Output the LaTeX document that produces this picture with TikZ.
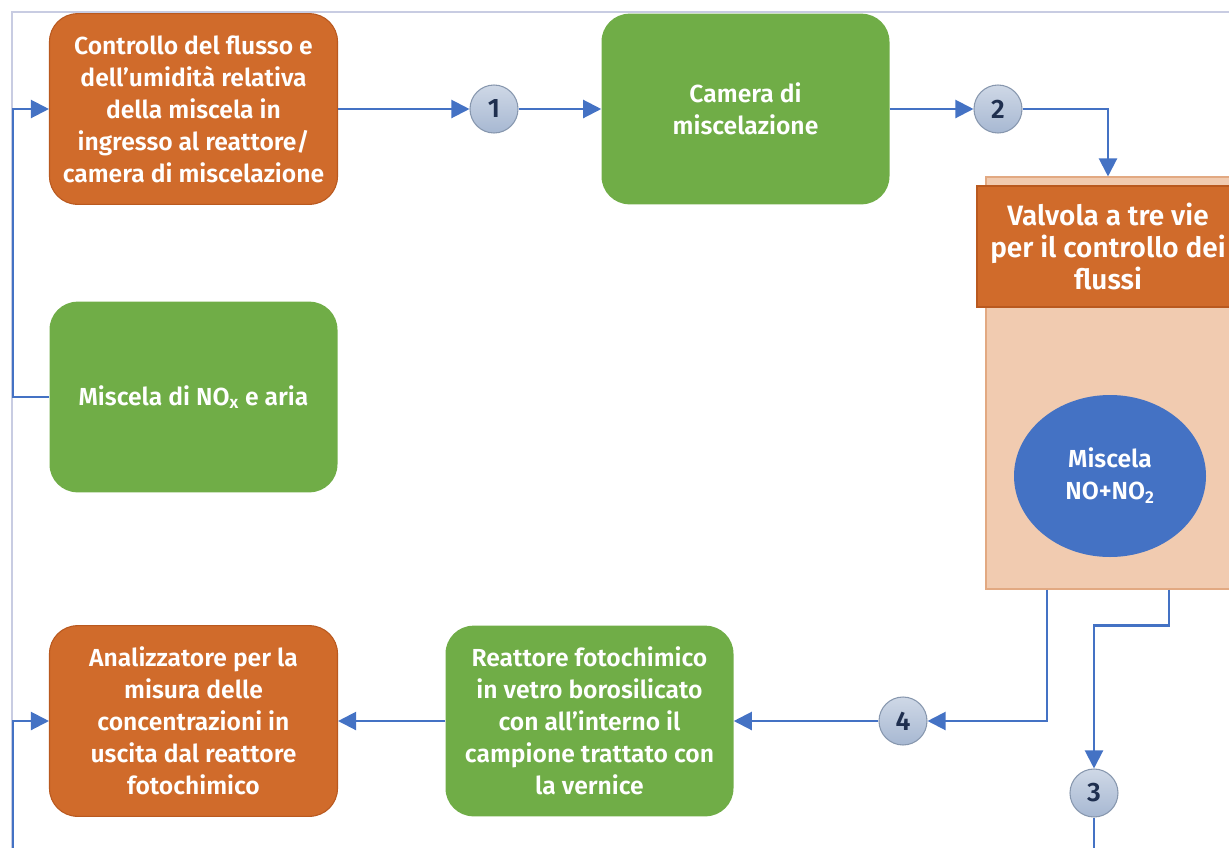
\documentclass[tikz,border=0pt]{standalone}
\usepackage{fontspec}
\setmainfont{Fira Sans}[BoldFont={Fira Sans SemiBold}]
\usetikzlibrary{arrows.meta,shapes.geometric}
\definecolor{arancio}{HTML}{D06B2B}
\definecolor{arancioscuro}{HTML}{B9591F}
\definecolor{verde}{HTML}{70AD47}
\definecolor{pesca}{HTML}{F1CBB0}
\definecolor{pescabordo}{HTML}{E2A982}
\definecolor{blu}{HTML}{4472C4}
\definecolor{cornice}{HTML}{C8CCE2}
\definecolor{tondo}{HTML}{A7B8D2}
\definecolor{tondobordo}{HTML}{8797AE}
\definecolor{cifra}{HTML}{1F2F4F}
\begin{document}
\begin{tikzpicture}[x=0.75pt,y=-0.75pt,
  box/.style={rounded corners=21pt,minimum width=216pt,minimum height=143pt,
    align=center,inner sep=0pt,text=white,font=\bfseries\fontsize{18.5}{24}\selectfont},
  arancione/.style={box,fill=arancio,draw=arancioscuro,line width=0.8pt},
  verdone/.style={box,fill=verde},
  num/.style={circle,minimum size=36pt,inner sep=0pt,top color=tondo!55!white,
    bottom color=tondo,draw=tondobordo,line width=0.8pt,text=cifra,
    font=\bfseries\fontsize{20}{22}\selectfont},
  flow/.style={draw=blu,line width=1.6pt,-{Triangle[length=13.5pt,width=13.5pt]}}]
  \useasboundingbox (0,0) rectangle (1229,847);
  % cornice
  \draw[cornice,line width=1pt] (12,880) -- (12,12) -- (1260,12);
  % blocchi
  \node[arancione] (ctrl) at (193.5,109) {Controllo del flusso e\\dell'umidità relativa\\della miscela in\\ingresso al reattore/\\camera di miscelazione};
  \node[verdone] (camera) at (745.5,109) {Camera di\\miscelazione};
  \node[verdone] (nox) at (193.5,397) {Miscela di NO\textsubscript{x} e aria};
  \node[arancione] (analiz) at (193.5,721) {Analizzatore per la\\misura delle\\concentrazioni in\\uscita dal reattore\\fotochimico};
  \node[verdone] (reatt) at (589.5,721) {Reattore fotochimico\\in vetro borosilicato\\con all'interno il\\campione trattato con\\la vernice};
  % valvola
  \node[fill=pesca,draw=pescabordo,line width=0.8pt,minimum width=183pt,minimum height=309pt] (valvola) at (1108,383) {};
  \node[fill=arancio,draw=arancioscuro,line width=0.8pt,minimum width=196.5pt,minimum height=90.75pt,
    align=center,text=white,font=\bfseries\fontsize{21}{24}\selectfont] (valvtesta) at (1108,246.5) {Valvola a tre vie\\per il controllo dei\\flussi};
  \node[ellipse,fill=blu,minimum width=144pt,minimum height=121.5pt,align=center,text=white,
    font=\bfseries\fontsize{18.5}{24}\selectfont] (miscela) at (1110,476) {Miscela\\NO+NO\textsubscript{2}};
  % nodi numerati
  \node[num] (n1) at (494,109) {1};
  \node[num] (n2) at (998,109) {2};
  \node[num] (n3) at (1094,793) {3};
  \node[num] (n4) at (903,721) {4};
  \coordinate (fondo) at (13,880);
  \coordinate (uscita) at (1094,880);
  % collegamenti
  \draw[flow] (ctrl) -- (n1);
  \draw[flow] (n1) -- (camera);
  \draw[flow] (camera) -- (n2);
  \draw[flow] (n2) -| (valvola);
  \draw[flow] (nox.west) -- ++(-36.5,0) |- (ctrl.west);
  \draw[flow] (valvola.south) ++(-61,0) |- (n4);
  \draw[flow] (valvola.south) ++(61,0) -- ++(0,36) -| (n3);
  \draw[flow] (n4) -- (reatt);
  \draw[flow] (reatt) -- (analiz);
  \draw[flow] (fondo) |- (analiz.west);
  \draw[blu,line width=1.6pt] (n3) -- (uscita);
\end{tikzpicture}
\end{document}
